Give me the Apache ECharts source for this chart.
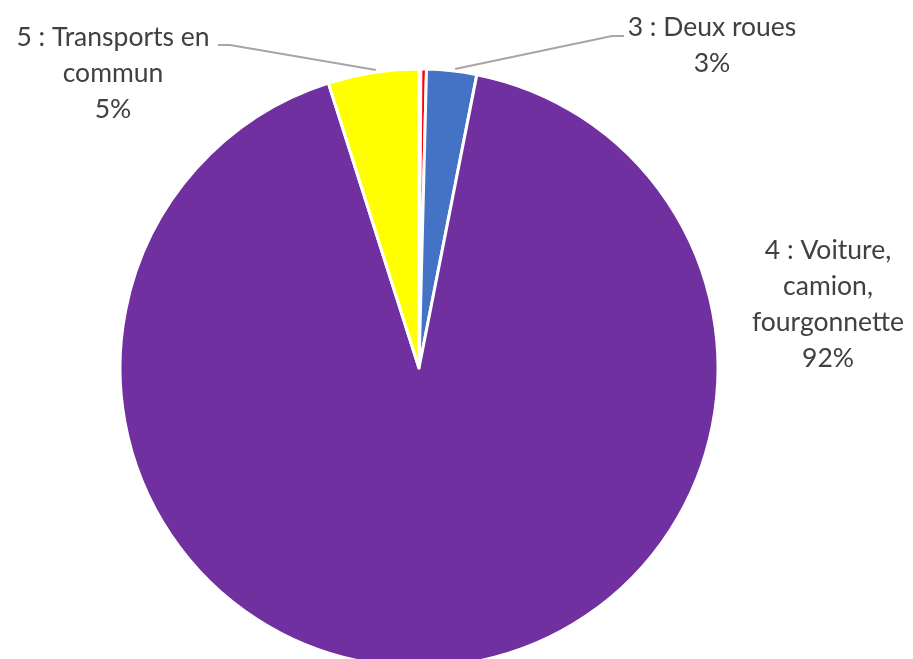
<!DOCTYPE html>
<html><head><meta charset="utf-8">
<script src="https://cdn.jsdelivr.net/npm/echarts@6/dist/echarts.min.js"></script>
<style>html,body{margin:0;padding:0;background:#fff}#c{width:913px;height:659px}</style>
</head><body><div id="c"></div>
<script>
const categories = ['1 : Pas de transport', '2 : Marche à pied', '3 : Deux roues', '4 : Voiture, camion, fourgonnette', '5 : Transports en commun'];
const labelTexts = ['', '', '3 : Deux roues', '4 : Voiture,\ncamion,\nfourgonnette', '5 : Transports en\ncommun'];
const values = [0.1, 0.3, 2.7, 92.0, 4.9];
const colors = ['#70AD47', '#FF0000', '#4472C4', '#7030A0', '#FFFF00'];

const chart = echarts.init(document.getElementById('c'));
const labelPos = {
  2: {x: 712, y: 45, line: [[455, 69], [612, 36], [624, 36]]},
  3: {x: 828, y: 304, line: null},
  4: {x: 113, y: 73, line: [[376, 70], [230, 45], [218, 45]]}
};
chart.setOption({
  animation: false,
  series: [{
    type: 'pie',
    center: [419, 368],
    radius: 299,
    startAngle: 90,
    clockwise: true,
    itemStyle: {borderColor: '#fff', borderWidth: 3},
    label: {
      show: true,
      position: 'outside',
      fontFamily: 'Lato',
      fontSize: 26.5,
      lineHeight: 36,
      color: '#404040',
      align: 'center',
      formatter: p => labelTexts[p.dataIndex] + '\n' + Math.round(p.percent) + '%'
    },
    labelLine: {show: true, lineStyle: {color: '#A6A6A6', width: 2}},
    labelLayout: function (params) {
      const lp = labelPos[params.dataIndex];
      if (!lp) return {};
      const r = {x: lp.x, y: lp.y, align: 'center', verticalAlign: 'middle'};
      if (lp.line) r.labelLinePoints = lp.line;
      return r;
    },
    data: categories.map((c, i) => {
      const d = {name: c, value: values[i], itemStyle: {color: colors[i]}};
      if (i < 2) { d.label = {show: false}; d.labelLine = {show: false}; }
      if (i === 3) { d.labelLine = {show: false}; }
      return d;
    })
  }]
});
</script></body></html>
